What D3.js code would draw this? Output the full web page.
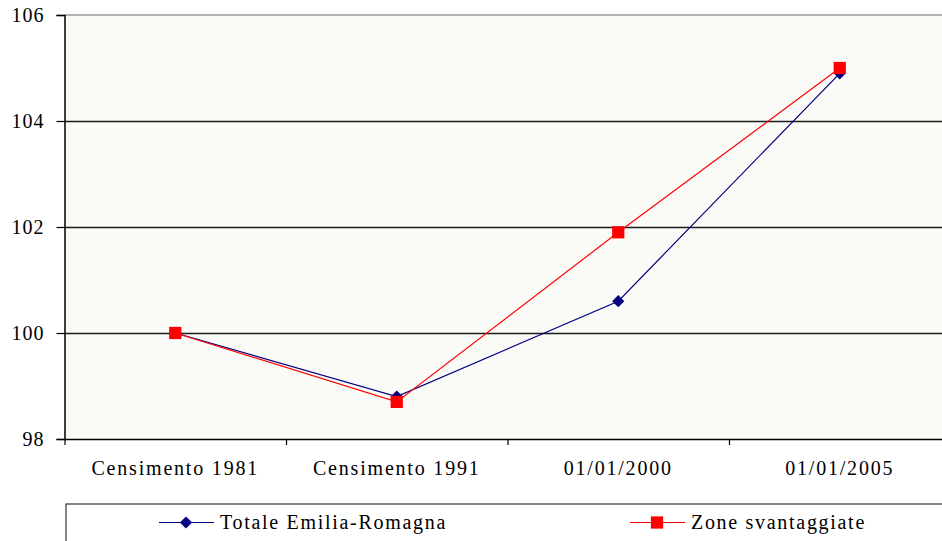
<!DOCTYPE html>
<html>
<head>
<meta charset="utf-8">
<script src="https://cdn.jsdelivr.net/npm/d3@7"></script>
<style>
  body { margin: 0; background: #fff; }
  svg { display: block; font-family: 'Liberation Serif', 'Times New Roman', serif; }
  .axis text { font-size: 20px; fill: #000; font-family: 'Liberation Serif', 'Times New Roman', serif; }
</style>
</head>
<body>
<div id="chart"></div>
<script>
var categories = ['Censimento 1981', 'Censimento 1991', '01/01/2000', '01/01/2005'];
var totaleER = [100, 98.8, 100.6, 104.9];
var zoneSvantaggiate = [100, 98.7, 101.9, 105.0];
var yTicks = [98, 100, 102, 104, 106];
var seriesNames = ['Totale Emilia-Romagna', 'Zone svantaggiate'];

var W = 942, H = 541;
var plotLeft = 64.5, plotTop = 15, plotBottom = 439;
var bandW = 221.5;

var svg = d3.select('#chart').append('svg')
    .attr('width', W)
    .attr('height', H)

var x = d3.scaleBand()
    .domain(categories)
    .range([plotLeft, plotLeft + bandW * categories.length])
    .paddingInner(0).paddingOuter(0)

var xEdges = d3.scaleLinear()
    .domain([0, categories.length])
    .range([plotLeft, plotLeft + bandW * categories.length])

var y = d3.scaleLinear()
    .domain([98, 106])
    .range([plotBottom, plotTop])

// plot background
svg.append('rect')
    .attr('x', plotLeft)
    .attr('y', plotTop)
    .attr('width', W - plotLeft + 20)
    .attr('height', plotBottom - plotTop)
    .attr('fill', '#fafbf6')

// gridlines
svg.append('g')
    .selectAll('line')
    .data(yTicks.filter(function(d) { return d > 98 && d < 106 }))
    .enter()
    .append('line')
    .attr('x1', plotLeft)
    .attr('x2', W + 20)
    .attr('y1', function(d) { return y(d) + 0.5 })
    .attr('y2', function(d) { return y(d) + 0.5 })
    .attr('stroke', '#1a1a1a')
    .attr('stroke-width', 1.3)

// top border
svg.append('line')
    .attr('x1', plotLeft).attr('x2', W + 20)
    .attr('y1', y(106)).attr('y2', y(106))
    .attr('stroke', '#9a9a9a')
    .attr('stroke-width', 1.5)

// y axis
var yAxis = d3.axisLeft(y)
    .tickValues(yTicks)
    .tickSize(8)
    .tickPadding(12)

var yg = svg.append('g')
    .attr('class', 'axis')
    .attr('transform', 'translate(' + plotLeft + ',0)')
    .call(yAxis)
yg.select('.domain').attr('stroke', '#000').attr('stroke-width', 1.5)
yg.selectAll('.tick line').attr('stroke', '#000').attr('stroke-width', 1.2)
yg.selectAll('text').style('letter-spacing', '1px')

// x axis: boundary ticks
var xTickAxis = d3.axisBottom(xEdges)
    .tickValues(d3.range(categories.length + 1))
    .tickFormat('')
    .tickSize(6)
    .tickSizeOuter(0)

var xg = svg.append('g')
    .attr('class', 'axis')
    .attr('transform', 'translate(0,' + plotBottom + ')')
    .call(xTickAxis)
xg.select('.domain').attr('stroke', '#000').attr('stroke-width', 1.5)
xg.selectAll('.tick line').attr('stroke', '#000').attr('stroke-width', 1.2)

// x labels
var xLabelAxis = d3.axisBottom(x)
    .tickSize(0)
    .tickPadding(22)

var xl = svg.append('g')
    .attr('class', 'axis')
    .attr('transform', 'translate(0,' + plotBottom + ')')
    .call(xLabelAxis)
xl.select('.domain').remove()
xl.selectAll('text').style('letter-spacing', '1.8px')

// series
var line = d3.line()
    .x(function(d, i) { return x(categories[i]) + x.bandwidth() / 2 })
    .y(function(d) { return y(d) })

var diamond = d3.symbol().type(d3.symbolDiamond2).size(95)
var square = d3.symbol().type(d3.symbolSquare).size(150)

svg.append('path')
    .datum(totaleER)
    .attr('d', line)
    .attr('fill', 'none')
    .attr('stroke', '#000080')
    .attr('stroke-width', 1.2)

svg.append('path')
    .datum(zoneSvantaggiate)
    .attr('d', line)
    .attr('fill', 'none')
    .attr('stroke', '#ff0000')
    .attr('stroke-width', 1.2)

svg.append('g')
    .selectAll('path')
    .data(totaleER)
    .enter()
    .append('path')
    .attr('d', diamond)
    .attr('fill', '#000080')
    .attr('transform', function(d, i) {
        return 'translate(' + (x(categories[i]) + x.bandwidth() / 2) + ',' + y(d) + ')'
    })

svg.append('g')
    .selectAll('path')
    .data(zoneSvantaggiate)
    .enter()
    .append('path')
    .attr('d', square)
    .attr('fill', '#ff0000')
    .attr('transform', function(d, i) {
        return 'translate(' + (x(categories[i]) + x.bandwidth() / 2) + ',' + y(d) + ')'
    })

// legend box
svg.append('rect')
    .attr('x', 66)
    .attr('y', 504)
    .attr('width', W)
    .attr('height', 60)
    .attr('fill', '#fff')
    .attr('stroke', '#333')
    .attr('stroke-width', 1.2)

var legendItems = [
    { name: seriesNames[0], color: '#000080', sym: diamond, x: 159 },
    { name: seriesNames[1], color: '#ff0000', sym: square, x: 630 }
]

var lg = svg.append('g')
    .selectAll('g')
    .data(legendItems)
    .enter()
    .append('g')
    .attr('transform', function(d) { return 'translate(' + d.x + ',522.5)' })

lg.append('line')
    .attr('x1', 0).attr('x2', 55)
    .attr('stroke', function(d) { return d.color })
    .attr('stroke-width', 1.2)

lg.append('path')
    .attr('d', function(d) { return d.sym() })
    .attr('transform', 'translate(27,0)')
    .attr('fill', function(d) { return d.color })

lg.append('text')
    .attr('x', 61)
    .attr('y', 6)
    .style('font-size', '20px')
    .style('letter-spacing', '1.7px')
    .text(function(d) { return d.name })
</script>
</body>
</html>
